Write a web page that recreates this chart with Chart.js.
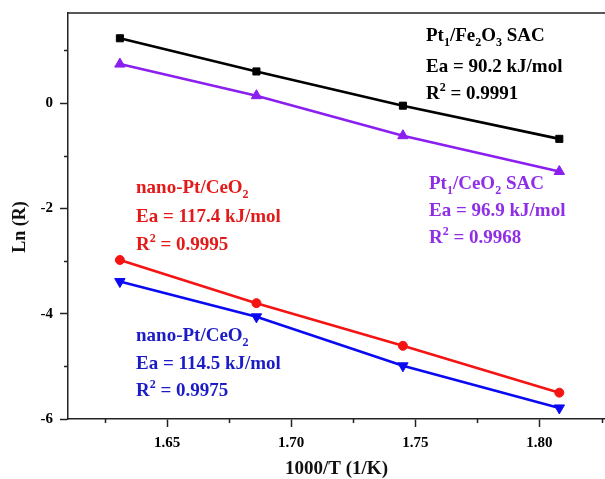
<!DOCTYPE html>
<html>
<head>
<meta charset="utf-8">
<script src="https://cdn.jsdelivr.net/npm/chart.js@4.4.1/dist/chart.umd.min.js"></script>
<style>
  html, body { margin: 0; padding: 0; background: #fff; }
  canvas { display: block; }
</style>
</head>
<body>
<canvas id="grafico" width="605" height="479"></canvas>
<script>
// 1000/T (1/K) para 340, 320, 300 y 280 °C
const invT = [1.631, 1.686, 1.745, 1.808];

// Ln (R) de cada catalizador
const lnPtFe = [1.23, 0.60, -0.05, -0.68];
const lnPtCeSAC = [0.74, 0.14, -0.62, -1.30];
const lnNanoRojo = [-2.98, -3.80, -4.61, -5.50];
const lnNanoAzul = [-3.39, -4.06, -4.99, -5.79];

// marcas de los ejes
const xMayores = [1.65, 1.70, 1.75, 1.80];
const xMenores = [1.625, 1.675, 1.725, 1.775, 1.825];
const yMayores = [-6, -4, -2, 0];
const yMenores = [-5, -3, -1, 1];

// textos con sub/superíndices: [texto, 'sub' | 'sup' | '']
const notaPtFe = [
    [['Pt', ''], ['1', 'sub'], ['/Fe', ''], ['2', 'sub'], ['O', ''], ['3', 'sub'], [' SAC', '']],
    [['Ea = 90.2 kJ/mol', '']],
    [['R', ''], ['2', 'sup'], [' = 0.9991', '']]
];
const notaPtCe = [
    [['Pt', ''], ['1', 'sub'], ['/CeO', ''], ['2', 'sub'], [' SAC', '']],
    [['Ea = 96.9 kJ/mol', '']],
    [['R', ''], ['2', 'sup'], [' = 0.9968', '']]
];
const notaNanoRojo = [
    [['nano-Pt/CeO', ''], ['2', 'sub']],
    [['Ea = 117.4 kJ/mol', '']],
    [['R', ''], ['2', 'sup'], [' = 0.9995', '']]
];
const notaNanoAzul = [
    [['nano-Pt/CeO', ''], ['2', 'sub']],
    [['Ea = 114.5 kJ/mol', '']],
    [['R', ''], ['2', 'sup'], [' = 0.9975', '']]
];

const FUENTE = '"Liberation Serif", "Times New Roman", serif';
Chart.defaults.font.family = FUENTE;
Chart.defaults.font.weight = 'bold';
Chart.defaults.color = '#000';

function serie(xs, ys) {
    return xs.map((x, i) => ({ x: x, y: ys[i] }));
}

function dibujarLinea(ctx, partes, x, y, color) {
    ctx.fillStyle = color;
    ctx.textAlign = 'left';
    ctx.textBaseline = 'alphabetic';
    partes.forEach(([txt, tipo]) => {
        const chico = tipo !== '';
        ctx.font = 'bold ' + (chico ? 12 : 19) + 'px ' + FUENTE;
        const dy = tipo === 'sub' ? 5 : (tipo === 'sup' ? -8 : 0);
        ctx.fillText(txt, x, y + dy);
        x += ctx.measureText(txt).width;
    });
}

// anotaciones, marco superior, marcas menores y título del eje Y
const extras = {
    id: 'extras',
    afterDraw(chart) {
        const ctx = chart.ctx;
        const area = chart.chartArea;
        const sx = chart.scales.x;
        const sy = chart.scales.y;
        ctx.save();
        ctx.strokeStyle = '#222';
        ctx.lineWidth = 1.5;
        ctx.beginPath();
        ctx.moveTo(area.left, area.top);
        ctx.lineTo(area.right, area.top);
        yMenores.forEach(v => {
            const py = Math.round(sy.getPixelForValue(v)) + 0.5;
            ctx.moveTo(area.left - 4, py);
            ctx.lineTo(area.left, py);
        });
        xMenores.forEach(v => {
            const px = Math.round(sx.getPixelForValue(v)) + 0.5;
            ctx.moveTo(px, area.bottom);
            ctx.lineTo(px, area.bottom + 4);
        });
        ctx.stroke();

        // Ln (R), algo por debajo del centro del eje
        ctx.translate(20, 227);
        ctx.rotate(-Math.PI / 2);
        ctx.fillStyle = '#111';
        ctx.font = 'bold 18px ' + FUENTE;
        ctx.textAlign = 'center';
        ctx.textBaseline = 'middle';
        ctx.fillText('Ln (R)', 0, 0);
        ctx.setTransform(1, 0, 0, 1, 0, 0);

        const notas = [
            [notaPtFe, 426, [41, 72, 99], '#000000'],
            [notaPtCe, 429, [189, 216, 243], '#8f2ee6'],
            [notaNanoRojo, 136, [193, 222, 250], '#e21a1a'],
            [notaNanoAzul, 136, [341, 369, 396], '#1c1cc6']
        ];
        notas.forEach(([lineas, x, ys, color]) => {
            lineas.forEach((partes, i) => dibujarLinea(ctx, partes, x, ys[i], color));
        });
        ctx.restore();
    }
};

const ctx = document.getElementById('grafico').getContext('2d');
new Chart(ctx, {
    type: 'line',
    data: {
        datasets: [
            {
                label: 'Pt1/Fe2O3 SAC',
                data: serie(invT, lnPtFe),
                borderColor: '#000000',
                backgroundColor: '#000000',
                pointStyle: 'rect',
                pointRadius: 5
            },
            {
                label: 'Pt1/CeO2 SAC',
                data: serie(invT, lnPtCeSAC),
                borderColor: '#8a1ff0',
                backgroundColor: '#8a1ff0',
                pointStyle: 'triangle',
                pointRadius: 6
            },
            {
                label: 'nano-Pt/CeO2 (Ea 117.4)',
                data: serie(invT, lnNanoRojo),
                borderColor: '#f41414',
                backgroundColor: '#f41414',
                pointStyle: 'circle',
                pointRadius: 4.5
            },
            {
                label: 'nano-Pt/CeO2 (Ea 114.5)',
                data: serie(invT, lnNanoAzul),
                borderColor: '#0a0af2',
                backgroundColor: '#0a0af2',
                pointStyle: 'triangle',
                pointRotation: 180,
                pointRadius: 6
            }
        ]
    },
    options: {
        responsive: false,
        animation: false,
        events: [],
        elements: {
            line: { borderWidth: 2.6, tension: 0 },
            point: { borderWidth: 1 }
        },
        layout: { autoPadding: false, padding: { top: 13, right: 0, left: 0, bottom: 0 } },
        plugins: {
            legend: { display: false },
            tooltip: { enabled: false }
        },
        scales: {
            x: {
                type: 'linear',
                min: 1.6101,
                max: 1.8264,
                afterFit: (s) => { s.height = 60; s.paddingLeft = 0; s.paddingRight = 0; },
                afterBuildTicks: (s) => { s.ticks = xMayores.map(v => ({ value: v })); },
                border: { display: true, color: '#222', width: 1.5 },
                grid: { drawOnChartArea: false, drawTicks: true, tickLength: 8, tickColor: '#222', tickWidth: 1.5 },
                ticks: {
                    padding: 7,
                    maxRotation: 0,
                    color: '#000',
                    font: { size: 15, weight: 'bold' },
                    callback: (v) => Number(v).toFixed(2)
                },
                title: {
                    display: true,
                    text: '1000/T (1/K)',
                    font: { size: 19, weight: 'bold', lineHeight: 1 },
                    padding: { top: 0, bottom: 0 },
                    color: '#111'
                }
            },
            y: {
                type: 'linear',
                min: -6,
                max: 1.71,
                afterFit: (s) => { s.width = 68; s.paddingTop = 0; s.paddingBottom = 0; },
                afterBuildTicks: (s) => { s.ticks = yMayores.map(v => ({ value: v })); },
                border: { display: true, color: '#222', width: 1.5 },
                grid: { drawOnChartArea: false, drawTicks: true, tickLength: 8, tickColor: '#222', tickWidth: 1.5 },
                ticks: {
                    padding: 7,
                    color: '#000',
                    font: { size: 15, weight: 'bold' },
                    callback: (v) => String(v)
                }
            }
        }
    },
    plugins: [extras]
});
</script>
</body>
</html>
